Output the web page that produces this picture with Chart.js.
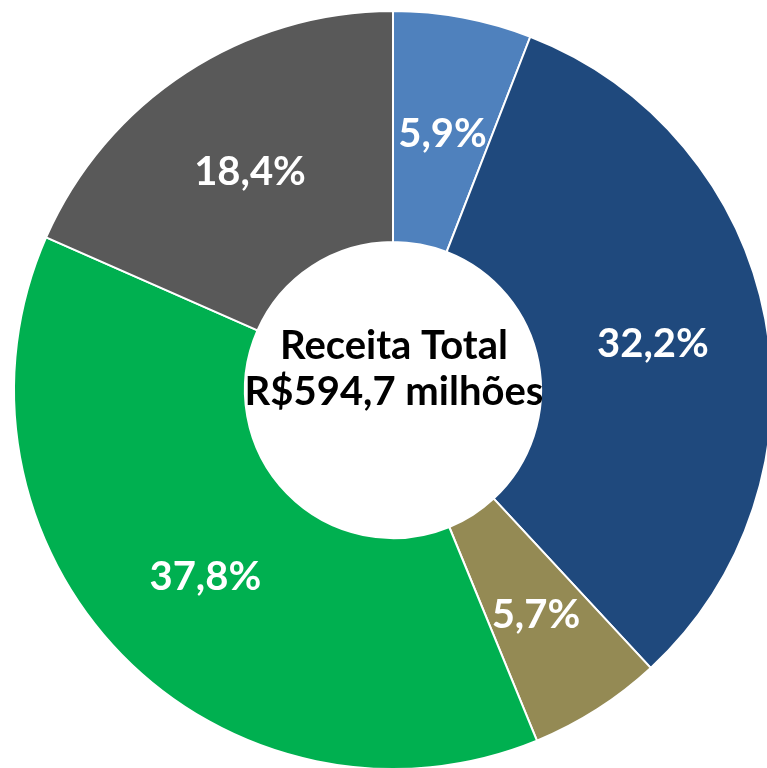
<!DOCTYPE html>
<html>
<head>
<meta charset="utf-8">
<script src="https://cdn.jsdelivr.net/npm/chart.js@4/dist/chart.umd.min.js"></script>
<style>
  html, body { margin: 0; padding: 0; background: #fff; overflow: hidden; }
  #wrap { position: absolute; left: 0; top: 0; width: 786px; height: 780px; }
</style>
</head>
<body>
<div id="wrap"><canvas id="myChart"></canvas></div>
<script>
// shares of total revenue, clockwise from the top
const categories = ['A', 'B', 'C', 'D', 'E'];
const shares = [5.9, 32.2, 5.7, 37.8, 18.4];
const colors = ['#4F81BD', '#1F497D', '#948A54', '#00B050', '#595959'];
const centerLines = ['Receita Total', 'R$594,7 milhões'];

const FONT = 'Lato, "Open Sans", sans-serif';

// white % labels in the middle of each slice
const sliceLabels = {
  id: 'sliceLabels',
  afterDatasetsDraw (chart) {
    const ctx = chart.ctx;
    const meta = chart.getDatasetMeta(0);
    ctx.save();
    ctx.fillStyle = '#fff';
    ctx.font = 'bold 40px ' + FONT;
    ctx.textAlign = 'center';
    ctx.textBaseline = 'middle';
    meta.data.forEach((arc, i) => {
      const p = arc.getCenterPoint();
      const txt = shares[i].toFixed(1).replace('.', ',') + '%';
      ctx.fillText(txt, p.x + 1, p.y + 3);
    });
    ctx.restore();
  }
};

// text in the hole
const centerText = {
  id: 'centerText',
  afterDatasetsDraw (chart) {
    const ctx = chart.ctx;
    const arc = chart.getDatasetMeta(0).data[0];
    ctx.save();
    ctx.fillStyle = '#000';
    ctx.font = 'bold 40px ' + FONT;
    ctx.textAlign = 'center';
    ctx.textBaseline = 'middle';
    ctx.fillText(centerLines[0], arc.x + 1, arc.y - 44);
    ctx.fillText(centerLines[1], arc.x + 1, arc.y + 2);
    ctx.restore();
  }
};

const ctx = document.getElementById('myChart');

const myChart = new Chart(ctx, {
  type: 'doughnut',
  data: {
    labels: categories,
    datasets: [{
      data: shares,
      backgroundColor: colors,
      borderColor: '#fff',
      borderWidth: 2,
    }]
  },
  options: {
    responsive: true,
    maintainAspectRatio: false,
    animation: false,
    radius: 379,
    cutout: 152,
    layout: { padding: 0 },
    plugins: {
      legend: false,
      tooltip: { enabled: false },
    },
  },
  plugins: [sliceLabels, centerText]
});
</script>
</body>
</html>
